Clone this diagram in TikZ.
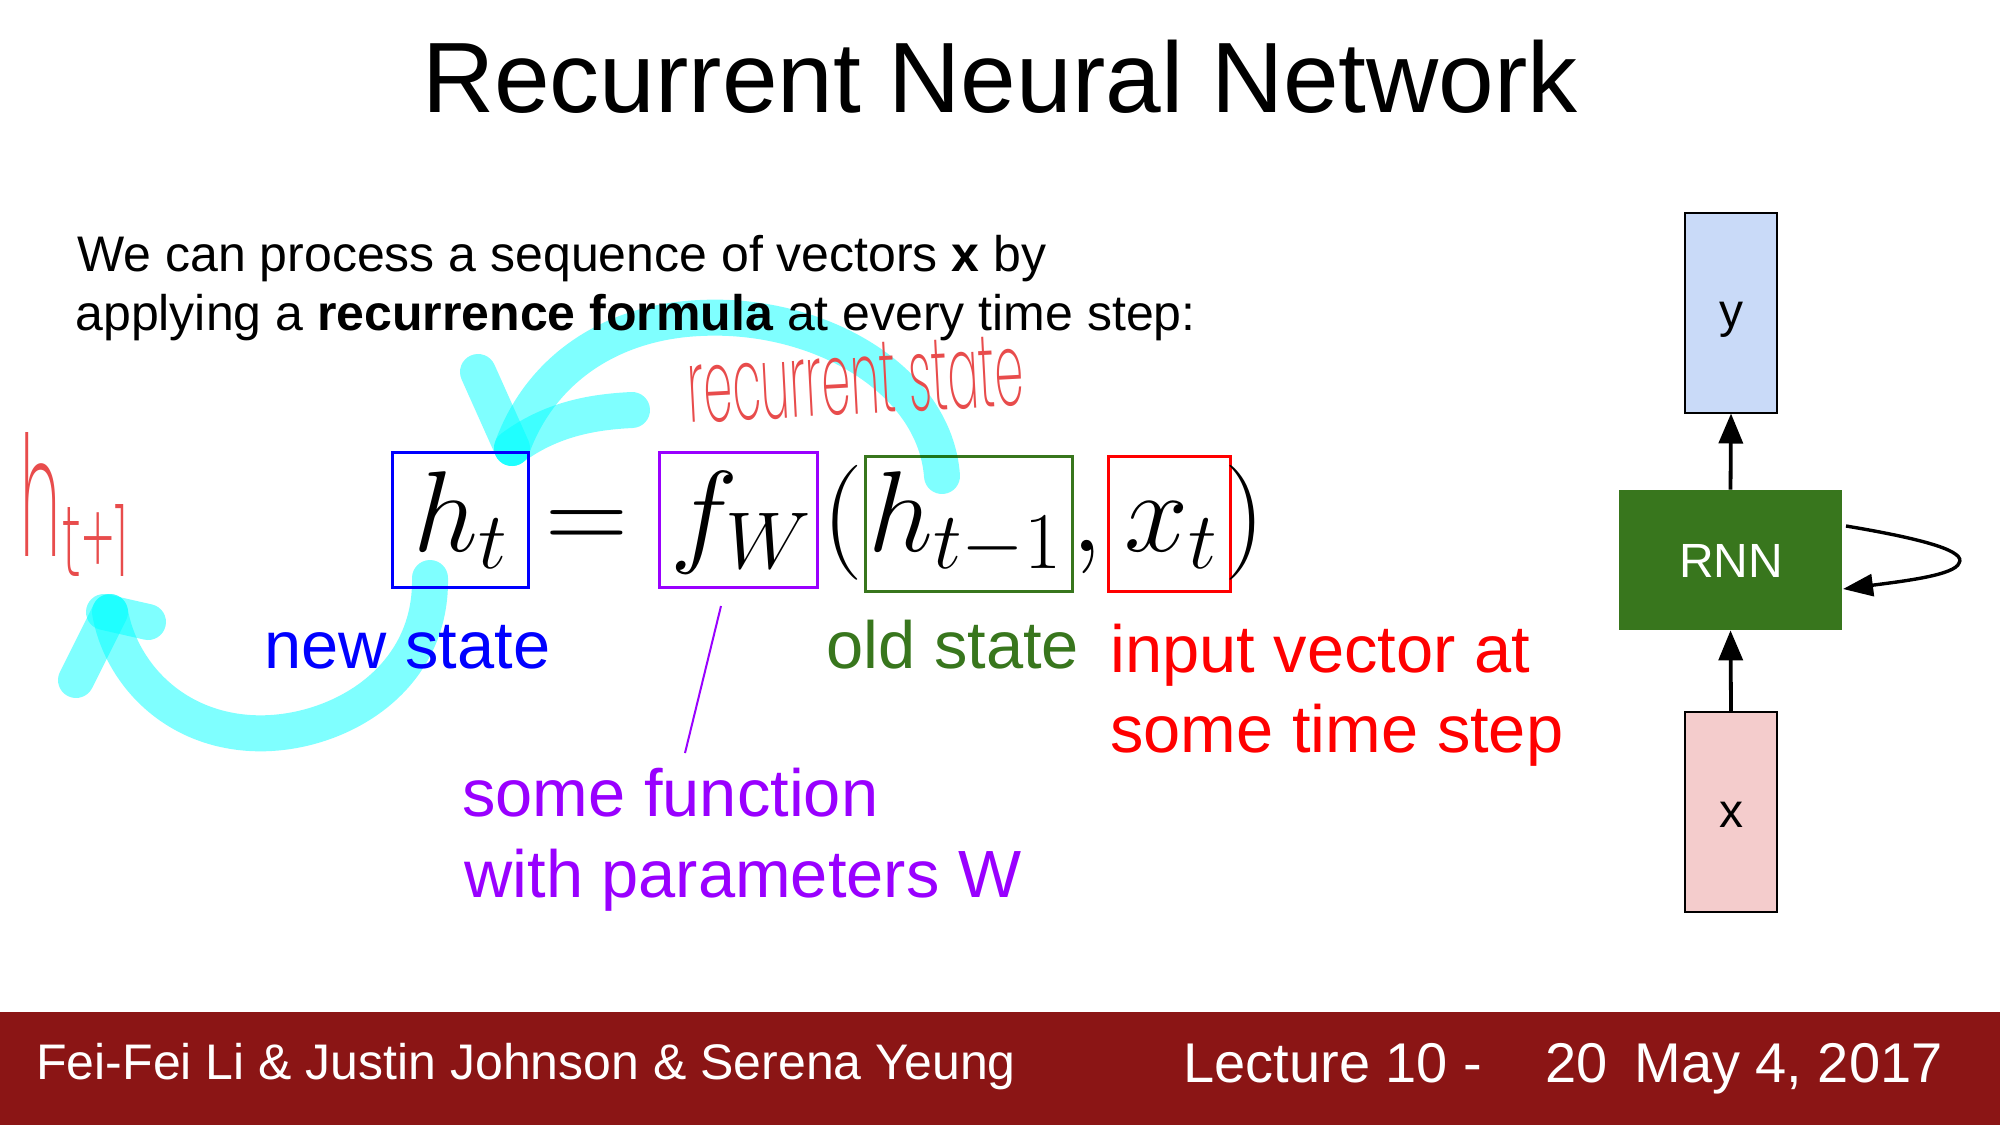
\documentclass[tikz,border=0pt]{standalone}
\usepackage{fix-cm}
\usepackage[no-math]{fontspec}
\setmainfont{Liberation Sans}
\newfontfamily\hand[FakeStretch=0.75]{Poppins ExtraLight}
\usepackage{graphicx}
\usetikzlibrary{arrows.meta}
\definecolor{fgreen}{HTML}{38761D}
\definecolor{fpurple}{HTML}{9900FF}
\definecolor{fblue}{HTML}{0000FF}
\definecolor{fred}{HTML}{FF0000}
\definecolor{ylight}{HTML}{C9DAF8}
\definecolor{xlight}{HTML}{F4CCCC}
\definecolor{footred}{HTML}{8B1515}
\definecolor{inkred}{HTML}{E84C4C}
\definecolor{inkcyan}{RGB}{0,255,255}
\tikzset{
  titletext/.style={font=\fontsize{50}{60}\selectfont, anchor=base, inner sep=0},
  bodytext/.style={font=\fontsize{25}{30}\selectfont, anchor=base west, inner sep=0},
  lbl/.style={font=\fontsize{33.4}{40}\selectfont, anchor=base west, inner sep=0},
  eqpart/.style={font=\fontsize{57.5}{60}\selectfont, anchor=base west, inner sep=0},
  eqbox/.style={draw=#1, line width=1.5pt, inner sep=0, minimum height=67.5pt},
  ink/.style={inkcyan, line width=18pt, line cap=round, line join=round, opacity=0.5, blend mode=multiply},
  handink/.style={inkred, inner sep=0},
  flowbox/.style={draw=black, line width=1pt, minimum width=46pt, minimum height=100pt, inner sep=0},
  flowtext/.style={font=\fontsize{24}{28}\selectfont, anchor=base, inner sep=0},
  flowarr/.style={line width=1.9pt, -{Triangle[length=15pt,width=12pt]}},
  footertext/.style={font=\fontsize{25}{30}\selectfont, white, anchor=base west, inner sep=0},
  footerbig/.style={font=\fontsize{28}{32}\selectfont, white, anchor=base west, inner sep=0},
}
\begin{document}
\begin{tikzpicture}[x=0.5pt,y=-0.5pt]
\fill[white] (0,0) rectangle (2000,1125);
\useasboundingbox (0,0) rectangle (2000,1125);

% title and intro
\node[titletext] (title) at (1000,112) {Recurrent Neural Network};
\node[bodytext] (line1) at (77,271) {We can process a sequence of vectors \textbf{x} by};
\node[bodytext] (line2) at (75,330) {applying a \textbf{recurrence formula} at every time step:};

% equation boxes
\node[eqbox=fblue, minimum width=68pt] (bht) at (460,520) {};
\node[eqbox=fpurple, minimum width=79pt] (bfw) at (738,520) {};
\node[eqbox=fgreen, minimum width=103.5pt] (bhold) at (968.5,524) {};
\node[eqbox=fred, minimum width=61pt] (bxt) at (1169,524) {};

% equation
\node[eqpart] (ht) at (413,551) {$h_t$};
\node[eqpart] (eqs) at (545,551) {$=$};
\node[eqpart] (fw) at (670,551) {$f_W$};
\node[eqpart] (lp) at (822,551) {$($};
\node[eqpart] (hold) at (868,551) {$h_{t-1}$};
\node[eqpart] (comma) at (1071,551) {$,$};
\node[eqpart] (xt) at (1124,551) {$x_t$};
\node[eqpart] (rp) at (1224,551) {$)$};

% labels
\node[lbl, fblue] (lnew) at (264,668) {new state};
\node[lbl, fgreen] (lold) at (826,668) {old state};
\node[lbl, fred] (lin1) at (1110,672) {input vector at};
\node[lbl, fred] (lin2) at (1110,752) {some time step};
\node[lbl, fpurple] (lf1) at (462,816) {some function};
\node[lbl, fpurple] (lf2) at (464,897) {with parameters W};
\coordinate (pa) at (721,606);
\coordinate (pb) at (685,753);
\draw[fpurple, line width=1pt] (pa) -- (pb);

% RNN diagram
\node[flowbox, fill=ylight] (ybox) at (1731,312.5) {};
\node[flowtext] (ylab) at (1731,327) {y};
\node[fill=fgreen, minimum width=111.5pt, minimum height=70pt, inner sep=0] (rnn) at (1730.5,560) {};
\node[flowtext, text=white] (rnnlab) at (1731,577) {RNN};
\node[flowbox, fill=xlight] (xbox) at (1731,812) {};
\node[flowtext] (xlab) at (1731,827) {x};
\draw[flowarr] (rnn.north) -- (ybox.south);
\draw[flowarr] (xbox.north) -- (rnn.south);
\coordinate (loopa) at (1846,526);
\coordinate (loopm) at (1959,563);
\coordinate (loopb) at (1843,589);
\draw[line width=1.7pt, -{Triangle[length=15pt,width=11pt]}] (loopa) .. controls (1930,540) and (1966,552) .. (loopm) .. controls (1955,575) and (1905,581) .. (loopb);

% footer
\fill[footred] (0,1012) rectangle (2000,1125);
\node[footertext] (authors) at (36,1079) {Fei-Fei Li \& Justin Johnson \& Serena Yeung};
\node[footerbig] (lecture) at (1183,1082) {Lecture 10 -};
\node[footerbig] (page) at (1545,1082) {20};
\node[footerbig] (date) at (1634,1082) {May 4, 2017};

% handwritten annotations
\coordinate (ua0) at (942,476);
\coordinate (ua1) at (700,318);
\coordinate (utip) at (512,448);
\coordinate (uwl) at (478,372);
\coordinate (uwr) at (632,410);
\draw[ink] (ua0) .. controls (935,380) and (820,312) .. (ua1) .. controls (610,322) and (540,370) .. (utip);
\draw[ink] (utip) -- (uwl);
\draw[ink] (utip) .. controls (550,420) and (590,412) .. (uwr);

\coordinate (la0) at (430,578);
\coordinate (la1) at (250,733);
\coordinate (ltip) at (110,612);
\coordinate (lwl) at (76,680);
\coordinate (lwr) at (148,622);
\draw[ink] (la0) .. controls (432,685) and (330,738) .. (la1) .. controls (170,728) and (120,670) .. (ltip);
\draw[ink] (ltip) -- (lwl);
\draw[ink] ([xshift=-3pt]ltip) -- (lwr);

\node[handink, anchor=base west, rotate=3] (hrec) at (689,423) {\resizebox{168pt}{35pt}{\hand recurrent state}};
\node[handink, anchor=south west] (hh) at (20,557) {\resizebox{20pt}{62pt}{\hand h}};
\node[handink, anchor=south west] (htp) at (62,577) {\resizebox{33pt}{36pt}{\hand t+1}};
\end{tikzpicture}
\end{document}
